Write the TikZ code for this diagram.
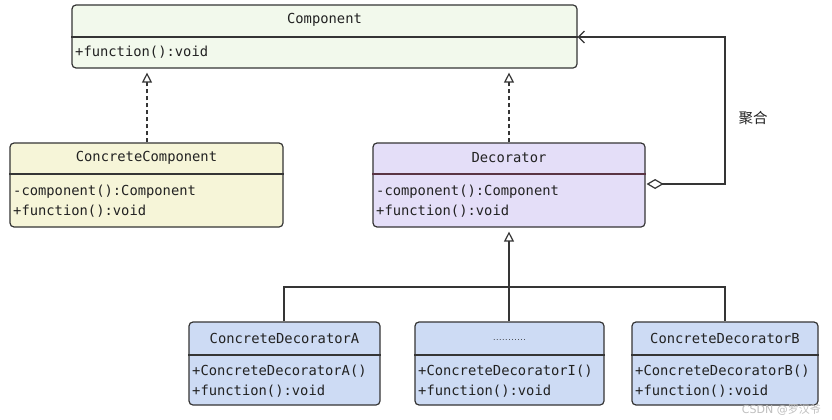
\documentclass[tikz,border=0pt]{standalone}
\usepackage{fontspec}
\setmonofont{DejaVu Sans Mono}
\newfontfamily\cjk{Noto Sans CJK SC}
\usetikzlibrary{arrows.meta}
\definecolor{edge}{HTML}{353535}
\definecolor{txt}{HTML}{222222}
\definecolor{fcomp}{HTML}{F2F9EC}
\definecolor{fconc}{HTML}{F6F5D8}
\definecolor{fdec}{HTML}{E4DEF8}
\definecolor{fblue}{HTML}{CDDBF4}
\definecolor{decdiv}{HTML}{5A3444}
\tikzset{
  umlbox/.style={draw=edge, line width=1.2pt, rounded corners=4pt, inner sep=0pt},
  divline/.style={draw=edge, line width=1.2pt},
  ttl/.style={font=\ttfamily\fontsize{13.8}{16}\selectfont, text=txt, inner sep=0pt, anchor=center},
  mem/.style={font=\ttfamily\fontsize{13.8}{16}\selectfont, text=txt, inner sep=0pt, anchor=west},
  conn/.style={draw=edge, line width=1.2pt},
  realize/.style={conn, dash pattern=on 4pt off 3pt, -{Triangle[open, length=10pt, width=10pt]}, shorten >=4pt},
  inherit/.style={conn, -{Triangle[open, length=10pt, width=10pt]}, shorten >=4pt},
}
\begin{document}
\begin{tikzpicture}[x=1pt,y=-1pt]
\useasboundingbox[fill=white] (0,0) rectangle (832,420);

% Component
\node[umlbox, fill=fcomp, minimum width=505pt, minimum height=63pt] (comp) at (324.5,36.5) {};
\draw[divline] (comp.west |- 0,37) -- (comp.east |- 0,37);
\node[ttl] (compT) at (324.5,20) {Component};
\node[mem] (compM) at (75,52) {+function():void};

% ConcreteComponent
\node[umlbox, fill=fconc, minimum width=273pt, minimum height=84pt] (cc) at (146.5,185) {};
\draw[divline] (cc.west |- 0,174) -- (cc.east |- 0,174);
\node[ttl] (ccT) at (146.5,158) {ConcreteComponent};
\node[mem] (ccM1) at (13,192) {-component():Component};
\node[mem] (ccM2) at (13,211) {+function():void};

% Decorator
\node[umlbox, fill=fdec, minimum width=272pt, minimum height=84pt] (dec) at (509,185) {};
\draw[divline, draw=decdiv] (dec.west |- 0,174) -- (dec.east |- 0,174);
\node[ttl] (decT) at (509,158) {Decorator};
\node[mem] (decM1) at (376,192) {-component():Component};
\node[mem] (decM2) at (376,211) {+function():void};

% ConcreteDecoratorA
\node[umlbox, fill=fblue, minimum width=191pt, minimum height=83pt] (cda) at (284.5,363.5) {};
\draw[divline] (cda.west |- 0,355) -- (cda.east |- 0,355);
\node[ttl] (cdaT) at (284.5,338) {ConcreteDecoratorA};
\node[mem] (cdaM1) at (192,371) {+ConcreteDecoratorA()};
\node[mem] (cdaM2) at (192,391) {+function():void};

% middle
\node[umlbox, fill=fblue, minimum width=189pt, minimum height=83pt] (cdi) at (509.5,363.5) {};
\draw[divline] (cdi.west |- 0,355) -- (cdi.east |- 0,355);
\node[ttl, font=\ttfamily\bfseries\fontsize{5}{6}\selectfont] (cdiT) at (509.5,340) {...........};
\node[mem] (cdiM1) at (418,371) {+ConcreteDecoratorI()};
\node[mem] (cdiM2) at (418,391) {+function():void};

% ConcreteDecoratorB
\node[umlbox, fill=fblue, minimum width=186pt, minimum height=83pt] (cdb) at (725,363.5) {};
\draw[divline] (cdb.west |- 0,355) -- (cdb.east |- 0,355);
\node[ttl] (cdbT) at (725,338) {ConcreteDecoratorB};
\node[mem] (cdbM1) at (635,371) {+ConcreteDecoratorB()};
\node[mem] (cdbM2) at (635,391) {+function():void};

% realization arrows
\draw[realize] (cc.north -| 147,0) -- (comp.south -| 147,0);
\draw[realize] (dec.north) -- (dec.north |- comp.south);

% inheritance tree
\coordinate (jA) at (284,287);
\coordinate (jB) at (725,287);
\draw[conn] (cda.north -| jA) -- (jA) -- (jB) -- (cdb.north -| jB);
\draw[inherit] (cdi.north -| dec.south) -- (dec.south);

% aggregation
\coordinate (ag1) at (725,184);
\coordinate (ag2) at (725,37);
\draw[conn, {Diamond[open, length=17pt, width=10pt]}-{Straight Barb[length=6pt, width=12pt]}, shorten <=1pt]
  (dec.east |- ag1) -- (ag1) -- (ag2) -- (comp.east |- ag2);
\node[font=\cjk\fontsize{14.5}{16}\selectfont, text=txt, inner sep=0pt] (aglab) at (753,118) {聚合};

% watermark
\node[font=\fontspec{DejaVu Sans}\fontsize{11}{13}\selectfont, text=gray!50, inner sep=0pt, anchor=east] (wm) at (821,410) {CSDN @{\cjk 罗汉爷}};
\end{tikzpicture}
\end{document}
